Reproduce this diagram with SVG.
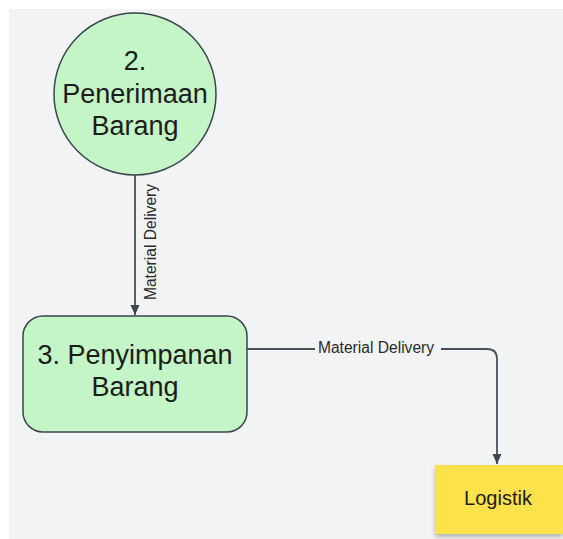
<svg xmlns="http://www.w3.org/2000/svg" width="563" height="539" viewBox="0 0 563 539">
  <style>
    .node { fill: #c3f5c6; stroke: #3d444d; stroke-width: 1.5; }
    .big { font-family: "Liberation Sans", Arial, sans-serif; font-size: 27px; fill: #1c1c1c; text-anchor: middle; }
    .lbl { font-family: "Liberation Sans", Arial, sans-serif; font-size: 15.6px; fill: #2a2a2a; }
    .conn { fill: none; stroke: #4a5058; stroke-width: 1.8; }
  </style>
  <defs>
    <marker id="arrow" markerUnits="userSpaceOnUse" markerWidth="10" markerHeight="10" viewBox="0 0 10 10" refX="10" refY="5" orient="auto">
      <path d="M0,0.5 L10,5 L0,9.5 Z" fill="#3d444d"/>
    </marker>
    <filter id="shadow" x="-10%" y="-10%" width="120%" height="130%">
      <feDropShadow dx="0" dy="3" stdDeviation="2" flood-color="#000" flood-opacity="0.25"/>
    </filter>
  </defs>
  <rect x="0" y="0" width="563" height="539" fill="#ffffff"/>
  <rect x="9" y="9" width="554" height="530" fill="#f2f3f5"/>

  <g id="connectors">
    <path class="conn" d="M135,175 L135,315" marker-end="url(#arrow)"/>
    <text class="lbl" transform="translate(156,242) rotate(-90)" text-anchor="middle">Material Delivery</text>
    <path class="conn" d="M247,349 L315,349"/>
    <path class="conn" d="M441,349 L487,349 Q497,349 497,359 L497,464" marker-end="url(#arrow)"/>
    <text class="lbl" x="376" y="353" text-anchor="middle">Material Delivery</text>
  </g>

  <g id="node-penerimaan">
    <circle class="node" cx="135" cy="94" r="81"/>
    <text class="big" x="135" y="70">2.</text>
    <text class="big" x="135" y="103">Penerimaan</text>
    <text class="big" x="135" y="135">Barang</text>
  </g>

  <g id="node-penyimpanan">
    <rect class="node" x="23" y="316" width="224" height="116" rx="20" ry="20"/>
    <text class="big" x="135" y="364">3. Penyimpanan</text>
    <text class="big" x="135" y="396">Barang</text>
  </g>

  <g id="node-logistik">
    <rect x="435" y="465" width="128" height="69" fill="#fde24b" filter="url(#shadow)"/>
    <text x="498" y="505" text-anchor="middle" font-family="'Liberation Sans', Arial, sans-serif" font-size="20" fill="#1c1c1c">Logistik</text>
  </g>
</svg>
